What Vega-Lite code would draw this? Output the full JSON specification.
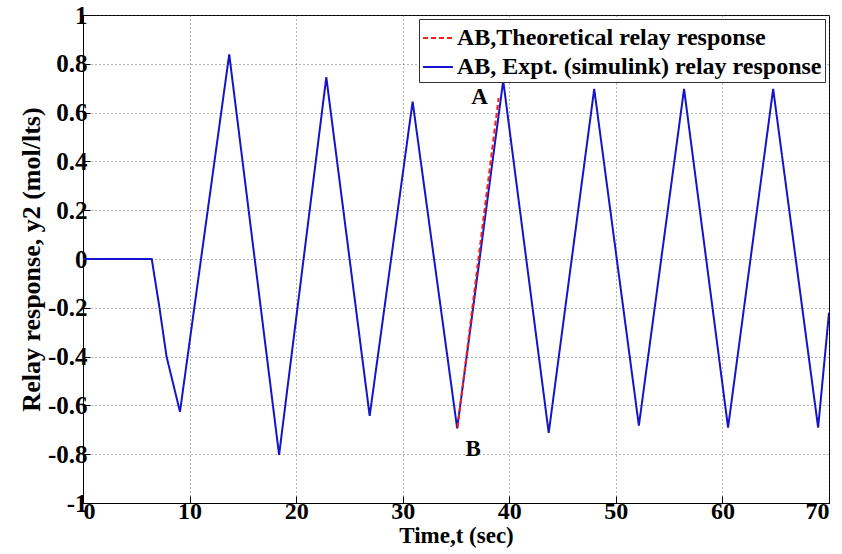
{
  "$schema": "https://vega.github.io/schema/vega-lite/v6.json",
  "width": 746,
  "height": 488,
  "autosize": {"type": "none"},
  "padding": {"left": 83, "top": 15, "right": 13, "bottom": 51},
  "background": "white",
  "config": {
    "view": {"stroke": "black", "strokeWidth": 1}
  },
  "datasets": {
    "lines": [
      {"t": 0, "y": 0, "series": "AB, Expt. (simulink) relay response"},
      {"t": 6.45, "y": 0, "series": "AB, Expt. (simulink) relay response"},
      {"t": 7.16, "y": -0.195, "series": "AB, Expt. (simulink) relay response"},
      {"t": 7.84, "y": -0.40, "series": "AB, Expt. (simulink) relay response"},
      {"t": 9.1, "y": -0.626, "series": "AB, Expt. (simulink) relay response"},
      {"t": 13.72, "y": 0.839, "series": "AB, Expt. (simulink) relay response"},
      {"t": 18.4, "y": -0.803, "series": "AB, Expt. (simulink) relay response"},
      {"t": 22.83, "y": 0.745, "series": "AB, Expt. (simulink) relay response"},
      {"t": 26.9, "y": -0.643, "series": "AB, Expt. (simulink) relay response"},
      {"t": 30.93, "y": 0.645, "series": "AB, Expt. (simulink) relay response"},
      {"t": 35.11, "y": -0.694, "series": "AB, Expt. (simulink) relay response"},
      {"t": 39.43, "y": 0.731, "series": "AB, Expt. (simulink) relay response"},
      {"t": 43.7, "y": -0.713, "series": "AB, Expt. (simulink) relay response"},
      {"t": 47.97, "y": 0.697, "series": "AB, Expt. (simulink) relay response"},
      {"t": 52.16, "y": -0.683, "series": "AB, Expt. (simulink) relay response"},
      {"t": 56.4, "y": 0.697, "series": "AB, Expt. (simulink) relay response"},
      {"t": 60.53, "y": -0.691, "series": "AB, Expt. (simulink) relay response"},
      {"t": 64.76, "y": 0.697, "series": "AB, Expt. (simulink) relay response"},
      {"t": 68.98, "y": -0.691, "series": "AB, Expt. (simulink) relay response"},
      {"t": 70, "y": -0.22, "series": "AB, Expt. (simulink) relay response"},
      {"t": 35.15, "y": -0.69, "series": "AB,Theoretical relay response"},
      {"t": 37.1, "y": 0.0, "series": "AB,Theoretical relay response"},
      {"t": 39.0, "y": 0.66, "series": "AB,Theoretical relay response"}
    ],
    "labels": [
      {"t": 37.2, "y": 0.665, "text": "A"},
      {"t": 36.6, "y": -0.78, "text": "B"}
    ]
  },
  "layer": [
    {
      "data": {"name": "lines"},
      "mark": {"type": "line", "strokeWidth": 2, "clip": true},
      "encoding": {
        "x": {
          "field": "t", "type": "quantitative",
          "scale": {"domain": [0, 70], "nice": false},
          "axis": {
            "values": [0, 10, 20, 30, 40, 50, 60, 70],
            "title": "Time,t (sec)",
            "titleFont": "Liberation Serif", "titleFontWeight": "bold", "titleFontSize": 23, "titleColor": "black",
            "titlePadding": 1,
            "labelFont": "Liberation Serif", "labelFontWeight": "bold", "labelFontSize": 24, "labelColor": "black",
            "labelPadding": 3,
            "domainColor": "black", "tickColor": "black", "tickSize": -7,
            "grid": true, "gridColor": "#444444", "gridDash": [1, 3], "gridWidth": 0.8
          }
        },
        "y": {
          "field": "y", "type": "quantitative",
          "scale": {"domain": [-1, 1], "nice": false},
          "axis": {
            "values": [-1, -0.8, -0.6, -0.4, -0.2, 0, 0.2, 0.4, 0.6, 0.8, 1],
            "labelExpr": "toString(round(datum.value*10)/10)",
            "title": "Relay response, y2 (mol/lts)",
            "titleFont": "Liberation Serif", "titleFontWeight": "bold", "titleFontSize": 26, "titleColor": "black",
            "titlePadding": 3,
            "labelFont": "Liberation Serif", "labelFontWeight": "bold", "labelFontSize": 25, "labelColor": "black",
            "labelPadding": 3,
            "domainColor": "black", "tickColor": "black", "tickSize": -7,
            "grid": true, "gridColor": "#444444", "gridDash": [1, 3], "gridWidth": 0.8
          }
        },
        "color": {
          "field": "series", "type": "nominal",
          "scale": {"domain": ["AB,Theoretical relay response", "AB, Expt. (simulink) relay response"], "range": ["#ff1a1a", "#1414c8"]},
          "legend": {
            "title": null, "orient": "top-right", "offset": 4,
            "strokeColor": "#333333", "fillColor": "white", "padding": 3,
            "labelFont": "Liberation Serif", "labelFontWeight": "bold", "labelFontSize": 24, "labelColor": "black",
            "labelLimit": 0, "labelOffset": 3,
            "symbolType": "stroke", "symbolSize": 900, "symbolStrokeWidth": 2,
            "rowPadding": 1
          }
        },
        "strokeDash": {
          "field": "series", "type": "nominal",
          "scale": {"domain": ["AB,Theoretical relay response", "AB, Expt. (simulink) relay response"], "range": [[5, 3], [1, 0]]},
          "legend": {
            "title": null, "orient": "top-right", "offset": 4,
            "strokeColor": "#333333", "fillColor": "white", "padding": 3,
            "labelFont": "Liberation Serif", "labelFontWeight": "bold", "labelFontSize": 24, "labelColor": "black",
            "labelLimit": 0, "labelOffset": 3,
            "symbolType": "stroke", "symbolSize": 900, "symbolStrokeWidth": 2,
            "rowPadding": 1
          }
        },
        "order": {"field": "series", "sort": "ascending"}
      }
    },
    {
      "data": {"name": "labels"},
      "mark": {"type": "text", "font": "Liberation Serif", "fontWeight": "bold", "fontSize": 23, "color": "black"},
      "encoding": {
        "x": {"field": "t", "type": "quantitative"},
        "y": {"field": "y", "type": "quantitative"},
        "text": {"field": "text"}
      }
    }
  ]
}
